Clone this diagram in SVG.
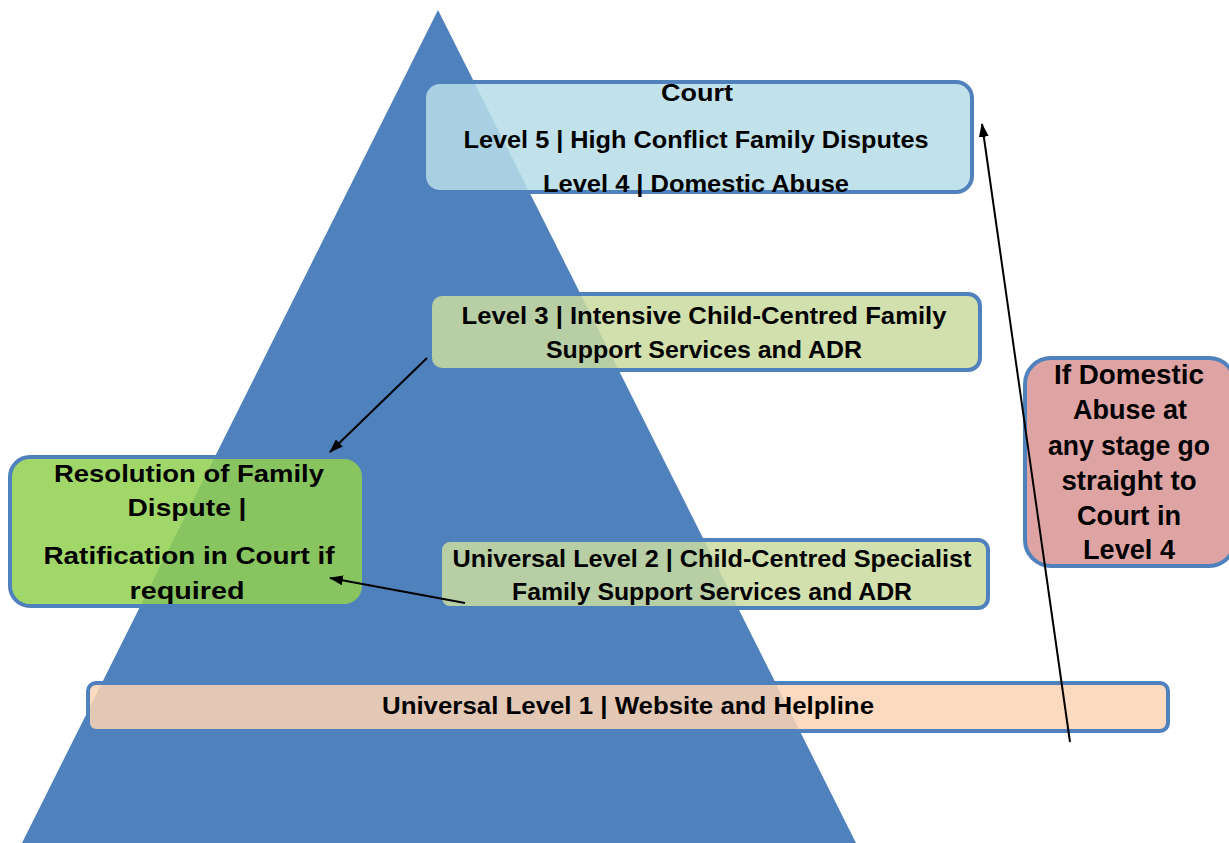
<svg xmlns="http://www.w3.org/2000/svg" width="1229" height="843" viewBox="0 0 1229 843">
<defs>
<style>
.box{stroke:#4f81bd;stroke-width:4;fill-opacity:0.86}
.t{font-family:"Liberation Sans",Arial,sans-serif;font-weight:bold;font-size:24px;fill:#000;text-anchor:middle}
.big{font-size:27px}
.conn{stroke:#000;stroke-width:2;fill:none;marker-end:url(#ah)}
</style>
<marker id="ah" markerWidth="14" markerHeight="10" refX="13" refY="5" orient="auto" markerUnits="userSpaceOnUse" viewBox="0 0 14 10">
<path d="M0,0 L14,5 L0,10 z" fill="#000"/>
</marker>
</defs>
<rect width="1229" height="843" fill="#fff"/>
<g id="pyramid"><polygon points="438,10 22,843 856,843" fill="#4f81bd"/></g>
<g id="court">
<rect class="box" x="424" y="82" width="548" height="110" rx="16" fill="#b7dde8"/>
<text class="t" x="697" y="101" textLength="72" lengthAdjust="spacingAndGlyphs">Court</text>
<text class="t" x="696" y="148" textLength="465" lengthAdjust="spacingAndGlyphs">Level 5 | High Conflict Family Disputes</text>
<text class="t" x="696" y="192" textLength="306" lengthAdjust="spacingAndGlyphs">Level 4 | Domestic Abuse</text>
</g>
<g id="level3">
<rect class="box" x="430" y="294" width="550" height="76" rx="12" fill="#c9dba0"/>
<text class="t" x="704" y="324" textLength="485" lengthAdjust="spacingAndGlyphs">Level 3 | Intensive Child-Centred Family</text>
<text class="t" x="704" y="358" textLength="316" lengthAdjust="spacingAndGlyphs">Support Services and ADR</text>
</g>
<g id="resolution">
<rect class="box" x="10" y="457" width="354" height="149" rx="20" fill="#92d050"/>
<text class="t" x="189" y="482" textLength="270" lengthAdjust="spacingAndGlyphs">Resolution of Family</text>
<text class="t" x="187" y="516" textLength="119" lengthAdjust="spacingAndGlyphs">Dispute |</text>
<text class="t" x="189" y="564" textLength="291" lengthAdjust="spacingAndGlyphs">Ratification in Court if</text>
<text class="t" x="187" y="599" textLength="115" lengthAdjust="spacingAndGlyphs">required</text>
</g>
<g id="level2">
<rect class="box" x="440" y="540" width="548" height="68" rx="10" fill="#c9dba0"/>
<text class="t" x="712" y="567" textLength="519" lengthAdjust="spacingAndGlyphs">Universal Level 2 | Child-Centred Specialist</text>
<text class="t" x="712" y="600" textLength="400" lengthAdjust="spacingAndGlyphs">Family Support Services and ADR</text>
</g>
<g id="level1">
<rect class="box" x="88" y="683" width="1080" height="48" rx="8" fill="#fbd4b4"/>
<text class="t" x="628" y="714" textLength="492" lengthAdjust="spacingAndGlyphs">Universal Level 1 | Website and Helpline</text>
</g>
<g id="domestic">
<rect class="box" x="1025" y="358" width="210" height="208" rx="26" fill="#d99594"/>
<text class="t big" x="1129" y="384" textLength="150" lengthAdjust="spacingAndGlyphs">If Domestic</text>
<text class="t big" x="1130" y="419" textLength="114" lengthAdjust="spacingAndGlyphs">Abuse at</text>
<text class="t big" x="1129" y="455" textLength="162" lengthAdjust="spacingAndGlyphs">any stage go</text>
<text class="t big" x="1129" y="490" textLength="135" lengthAdjust="spacingAndGlyphs">straight to</text>
<text class="t big" x="1129" y="525" textLength="104" lengthAdjust="spacingAndGlyphs">Court in</text>
<text class="t big" x="1129" y="559" textLength="92" lengthAdjust="spacingAndGlyphs">Level 4</text>
</g>
<g id="connectors">
<line class="conn" x1="427" y1="358" x2="330" y2="452"/>
<line class="conn" x1="465" y1="603" x2="330" y2="578"/>
<line class="conn" x1="1070" y1="742" x2="982" y2="124"/>
</g>
</svg>
